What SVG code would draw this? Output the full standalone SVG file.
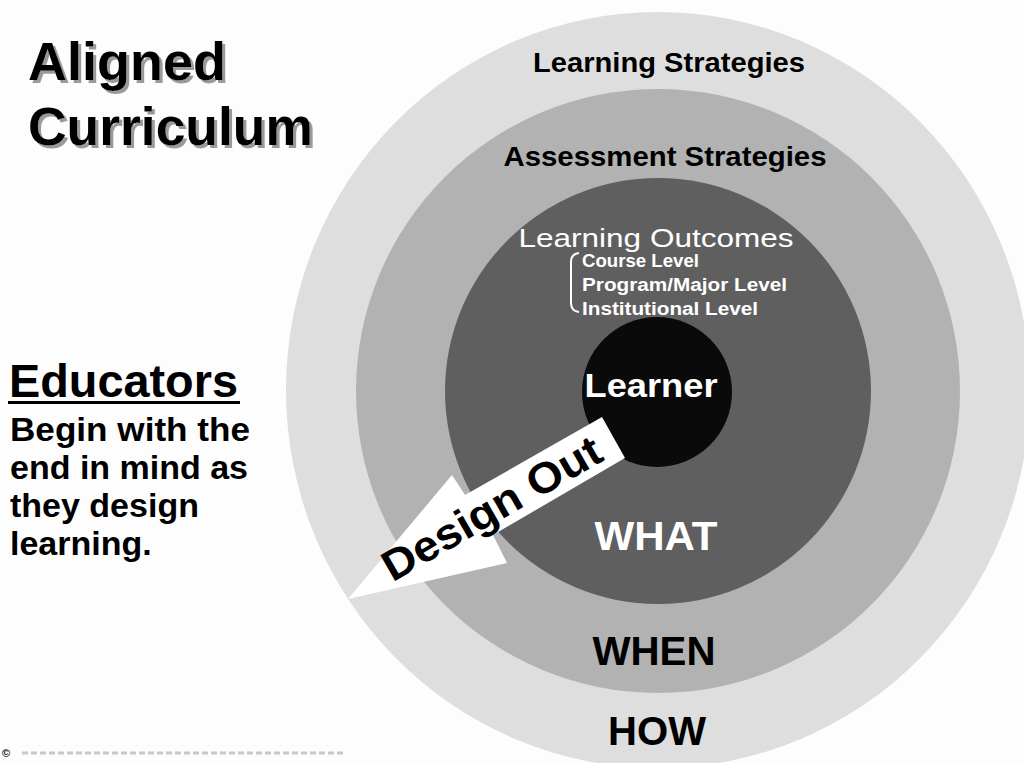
<svg xmlns="http://www.w3.org/2000/svg" width="1024" height="763" viewBox="0 0 1024 763">
<style>
.t{font-family:"Liberation Sans",Arial,sans-serif;font-weight:bold}
.title{font-size:54px}
.ring{font-size:27px;fill:#000;text-anchor:middle}
.big{font-size:40px;text-anchor:middle}
.side{font-size:34px;fill:#000}
.lvl{font-size:18px;fill:#fff}
</style>
<defs>
<filter id="shadow" x="-5%" y="-10%" width="115%" height="130%">
<feOffset in="SourceAlpha" dx="3" dy="3" result="off"/>
<feFlood flood-color="#9a9a9a"/>
<feComposite in2="off" operator="in" result="sh"/>
<feMerge><feMergeNode in="sh"/><feMergeNode in="SourceGraphic"/></feMerge>
</filter>
</defs>
<rect width="1024" height="763" fill="#fdfdfd"/>
<g id="title" filter="url(#shadow)">
<text class="t title" x="28" y="80">Aligned</text>
<text class="t title" x="28" y="145" textLength="285" lengthAdjust="spacingAndGlyphs">Curriculum</text>
</g>
<g id="educators">
<text class="t" x="9" y="397" font-size="46" textLength="229" lengthAdjust="spacingAndGlyphs">Educators</text>
<rect x="8" y="401" width="232" height="3" fill="#000"/>
<text class="t side" x="10" y="441" textLength="240" lengthAdjust="spacingAndGlyphs">Begin with the</text>
<text class="t side" x="10" y="479">end in mind as</text>
<text class="t side" x="10" y="517">they design</text>
<text class="t side" x="10" y="555">learning.</text>
</g>
<g id="how-ring">
<ellipse cx="658" cy="390" rx="372" ry="378" fill="#dedede"/>
<text class="t ring" x="669" y="72" textLength="272" lengthAdjust="spacingAndGlyphs">Learning Strategies</text>
<text class="t big" x="657" y="745" textLength="98" lengthAdjust="spacingAndGlyphs">HOW</text>
</g>
<g id="when-ring">
<circle cx="658" cy="391" r="302" fill="#b2b2b2"/>
<text class="t ring" x="665" y="166" textLength="323" lengthAdjust="spacingAndGlyphs">Assessment Strategies</text>
<text class="t big" x="654" y="665" textLength="123" lengthAdjust="spacingAndGlyphs">WHEN</text>
</g>
<g id="what-ring">
<circle cx="658" cy="391" r="213" fill="#5f5f5f"/>
<text x="656" y="247" font-family="Liberation Sans, Arial, sans-serif" font-size="26" fill="#fff" text-anchor="middle" textLength="275" lengthAdjust="spacingAndGlyphs">Learning Outcomes</text>
<path d="M579,253 Q571,254 571,262 L571,303 Q571,311 579,312" fill="none" stroke="#fff" stroke-width="2"/>
<text class="t lvl" x="582" y="267" textLength="117" lengthAdjust="spacingAndGlyphs">Course Level</text>
<text class="t lvl" x="582" y="291" textLength="205" lengthAdjust="spacingAndGlyphs">Program/Major Level</text>
<text class="t lvl" x="582" y="315" textLength="176" lengthAdjust="spacingAndGlyphs">Institutional Level</text>
<text class="t big" x="656" y="550" fill="#fff" textLength="123" lengthAdjust="spacingAndGlyphs">WHAT</text>
</g>
<g id="learner">
<circle cx="657" cy="392" r="75" fill="#0a0a0a"/>
<text class="t" x="651" y="397" font-size="34" fill="#fff" text-anchor="middle" textLength="133" lengthAdjust="spacingAndGlyphs">Learner</text>
</g>
<g id="connectors">
<g id="design-out">
<polygon points="348,599 452,475 465,495 602,417 625,458 493,535 507,563" fill="#fff"/>
<text class="t" transform="translate(499,521) rotate(-30)" font-size="43" fill="#000" text-anchor="middle" textLength="246" lengthAdjust="spacingAndGlyphs">Design Out</text>
</g>
</g>
<g id="footer">
<text x="2" y="757" font-family="Liberation Sans, Arial, sans-serif" font-size="11" font-weight="bold" fill="#000">©</text>
<line x1="22" y1="753" x2="345" y2="753" stroke="#c8c8c8" stroke-width="3" stroke-dasharray="6 3"/>
</g>
</svg>
